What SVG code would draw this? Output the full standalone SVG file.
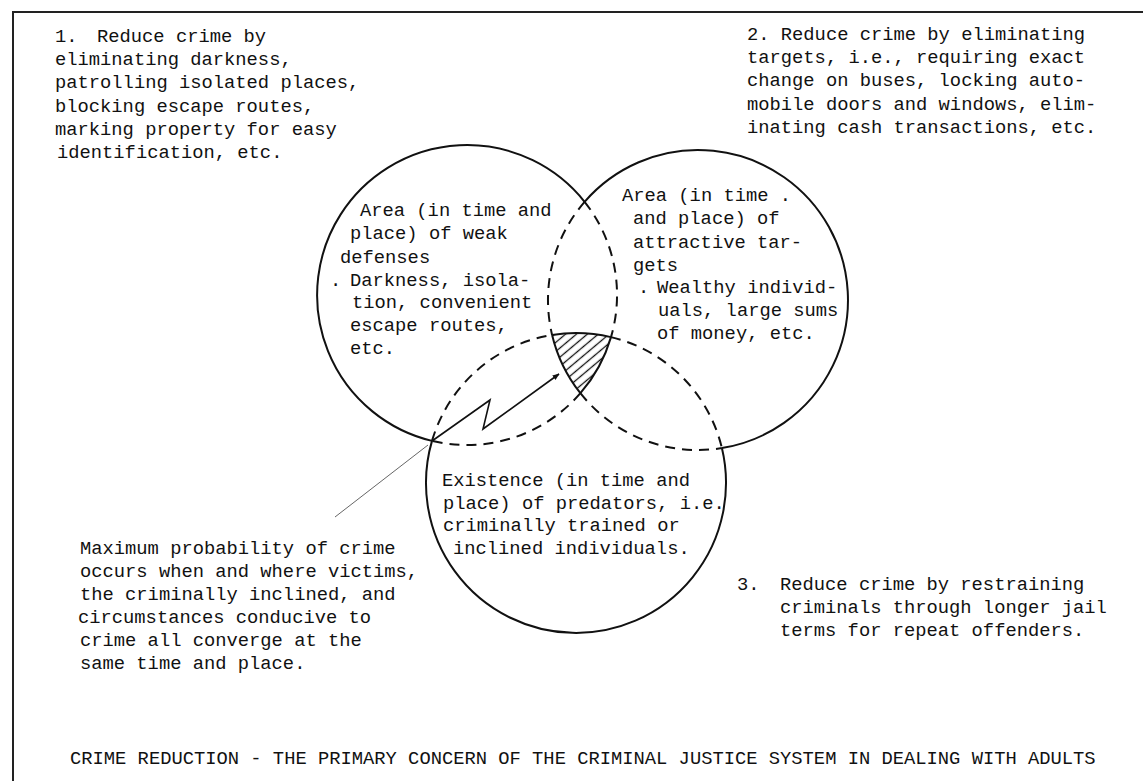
<svg xmlns="http://www.w3.org/2000/svg" width="1146" height="781" viewBox="0 0 1146 781">
<style>
text{font-family:"Liberation Mono","DejaVu Sans Mono",monospace;font-size:18.8px;fill:#111}
.solid{fill:none;stroke:#111;stroke-width:2}
.dash{fill:none;stroke:#111;stroke-width:2;stroke-dasharray:10 7}
.frame{fill:none;stroke:#222;stroke-width:2}
</style>
<defs>
<pattern id="hatch" patternUnits="userSpaceOnUse" width="7" height="7" patternTransform="rotate(-40)">
<line x1="0" y1="3.5" x2="7" y2="3.5" stroke="#111" stroke-width="1.3"/>
</pattern>
<marker id="ah" viewBox="0 0 10 10" refX="9" refY="5" markerWidth="7" markerHeight="7" orient="auto" markerUnits="userSpaceOnUse">
<path d="M0,1 L10,5 L0,9 Z" fill="#111"/>
</marker>
</defs>
<rect width="1146" height="781" fill="#fff"/>
<g id="frame">
<path class="frame" d="M13,781 L13,12 L1143,12"/>
</g>
<g id="text-1">
<text x="55" y="42">1.</text><text x="97" y="42">Reduce crime by</text>
<text x="55" y="65">eliminating darkness,</text>
<text x="55" y="88">patrolling isolated places,</text>
<text x="55" y="112">blocking escape routes,</text>
<text x="55" y="135">marking property for easy</text>
<text x="57" y="158">identification, etc.</text>
</g>
<g id="text-2">
<text x="747" y="40">2. Reduce crime by eliminating</text>
<text x="747" y="63">targets, i.e., requiring exact</text>
<text x="747" y="86">change on buses, locking auto-</text>
<text x="747" y="110">mobile doors and windows, elim-</text>
<text x="747" y="133">inating cash transactions, etc.</text>
</g>
<g id="hatched-area">
<path d="M552.1,334.9 A150,150 0 0 1 611.0,337.1 A150,150 0 0 1 580.4,393.2 A150,150 0 0 1 552.1,334.9 Z" fill="url(#hatch)" stroke="none"/>
</g>
<g id="circle-defenses">
<path class="solid" d="M584.6,201.8 A150,150 0 1 0 432.0,440.9"/>
<path class="solid" d="M611.0,337.1 A150,150 0 0 1 580.4,393.2"/>
<path class="dash" d="M584.6,201.8 A150,150 0 0 1 611.0,337.1"/>
<path class="dash" d="M580.4,393.2 A150,150 0 0 1 432.0,440.9"/>
<text x="360" y="216">Area (in time and</text>
<text x="350" y="239">place) of weak</text>
<text x="340" y="263">defenses</text>
<text x="330" y="286">.</text><text x="350" y="286">Darkness, isola-</text>
<text x="352" y="308">tion, convenient</text>
<text x="350" y="331">escape routes,</text>
<text x="350" y="354">etc.</text>
</g>
<g id="circle-targets">
<path class="solid" d="M584.6,201.8 A150,150 0 1 1 721.9,448.1"/>
<path class="solid" d="M552.1,334.9 A150,150 0 0 0 580.4,393.2"/>
<path class="dash" d="M584.6,201.8 A150,150 0 0 0 552.1,334.9"/>
<path class="dash" d="M580.4,393.2 A150,150 0 0 0 721.9,448.1"/>
<text x="622" y="201">Area (in time .</text>
<text x="633" y="224">and place) of</text>
<text x="633" y="248">attractive tar-</text>
<text x="633" y="271">gets</text>
<text x="638" y="293">.</text><text x="657" y="293">Wealthy individ-</text>
<text x="658" y="316">uals, large sums</text>
<text x="657" y="339">of money, etc.</text>
</g>
<g id="circle-predators">
<path class="solid" d="M432.0,440.9 A150,150 0 1 0 721.9,448.1"/>
<path class="solid" d="M552.1,334.9 A150,150 0 0 1 611.0,337.1"/>
<path class="dash" d="M432.0,440.9 A150,150 0 0 1 552.1,334.9"/>
<path class="dash" d="M611.0,337.1 A150,150 0 0 1 721.9,448.1"/>
<text x="442" y="486">Existence (in time and</text>
<text x="443" y="509">place) of predators, i.e.</text>
<text x="443" y="531">criminally trained or</text>
<text x="453" y="554">inclined individuals.</text>
</g>
<g id="connectors">
<polyline points="432,441 490,400 483,429 559,374" fill="none" stroke="#111" stroke-width="1.6" marker-end="url(#ah)"/>
<line x1="428" y1="445" x2="335" y2="517" stroke="#666" stroke-width="1"/>
</g>
<g id="text-maximum">
<text x="80" y="554">Maximum probability of crime</text>
<text x="80" y="577">occurs when and where victims,</text>
<text x="80" y="600">the criminally inclined, and</text>
<text x="78" y="623">circumstances conducive to</text>
<text x="80" y="646">crime all converge at the</text>
<text x="80" y="669">same time and place.</text>
</g>
<g id="text-3">
<text x="737" y="590">3.</text><text x="780" y="590">Reduce crime by restraining</text>
<text x="780" y="613">criminals through longer jail</text>
<text x="780" y="636">terms for repeat offenders.</text>
</g>
<g id="title">
<text x="70" y="764">CRIME REDUCTION - THE PRIMARY CONCERN OF THE CRIMINAL JUSTICE SYSTEM IN DEALING WITH ADULTS</text>
</g>
</svg>
